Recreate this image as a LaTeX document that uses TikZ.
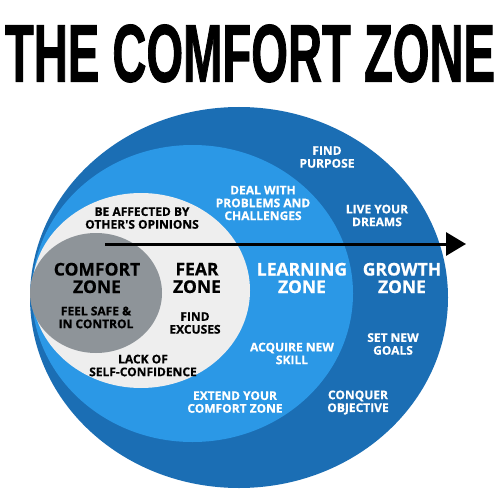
\documentclass[tikz,border=0pt]{standalone}
\usepackage{fontspec}
\usetikzlibrary{shapes.geometric,arrows.meta}
\newfontfamily\titlefont{Liberation Sans}[BoldFeatures={FakeBold=1.5}]
\newfontfamily\labfont{Open Sans}[BoldFeatures={FakeBold=0.6}]
\definecolor{darkblue}{HTML}{1B6EB4}
\definecolor{lightblue}{HTML}{2B98E6}
\definecolor{palezone}{HTML}{EEEEEE}
\definecolor{greyzone}{HTML}{8E9499}
\tikzset{
  zone/.style={ellipse, inner sep=0pt, draw=none},
  small/.style={align=center, inner sep=0pt, font=\labfont\bfseries\fontsize{12}{12.8}\selectfont},
  big/.style={align=center, inner sep=0pt, font=\labfont\bfseries\fontsize{17.5}{17.5}\selectfont},
  onblue/.style={text=white},
  onpale/.style={text=black}
}
\begin{document}
\begin{tikzpicture}[x=1pt,y=-1pt]
\useasboundingbox (0,0) rectangle (500,500);
\fill[white] (0,0) rectangle (500,500);
% title
\node[inner sep=0pt] (title) at (250,53.5) {\resizebox{490pt}{57pt}{\titlefont\bfseries THE COMFORT ZONE}};
% zones
\node[zone, fill=darkblue, minimum width=418pt, minimum height=381pt] (growth) at (239,297.5) {};
\node[zone, fill=lightblue, minimum width=321pt, minimum height=297pt] (learning) at (192.5,293.5) {};
\node[zone, fill=palezone, minimum width=218pt, minimum height=195pt] (fear) at (141,290.5) {};
\node[zone, fill=greyzone, minimum width=132pt, minimum height=120pt] (comfort) at (96,293) {};
% arrow
\coordinate (arrS) at (105,244);
\coordinate (arrE) at (466,244);
\draw[line width=3pt, -{Triangle[length=20pt,width=23pt]}] (arrS) -- (arrE);
% labels
\node[small, onblue] (purpose) at (327,157) {FIND\\PURPOSE};
\node[small, onblue] (deal) at (263,203) {DEAL WITH\\PROBLEMS AND\\CHALLENGES};
\node[small, onblue] (dreams) at (377,215.5) {LIVE YOUR\\DREAMS};
\node[small, onpale] (affected) at (142,218) {BE AFFECTED BY\\OTHER'S OPINIONS};
\node[big, onpale] (comfortlab) at (97,278) {COMFORT\\ZONE};
\node[big, onpale] (fearlab) at (197,278) {FEAR\\ZONE};
\node[big, onblue] (learnlab) at (302,278) {LEARNING\\ZONE};
\node[big, onblue] (growlab) at (402,278) {GROWTH\\ZONE};
\node[small, onpale] (safe) at (96,317.5) {FEEL SAFE \&\\IN CONTROL};
\node[small, onpale] (excuses) at (195,323) {FIND\\EXCUSES};
\node[small, onpale] (lack) at (143,365.5) {LACK OF\\SELF-CONFIDENCE};
\node[small, onblue] (skill) at (292,353.5) {ACQUIRE NEW\\SKILL};
\node[small, onblue] (goals) at (393,344) {SET NEW\\GOALS};
\node[small, onblue] (extend) at (235,402) {EXTEND YOUR\\COMFORT ZONE};
\node[small, onblue] (conquer) at (358,402.5) {CONQUER\\OBJECTIVE};
\end{tikzpicture}
\end{document}
